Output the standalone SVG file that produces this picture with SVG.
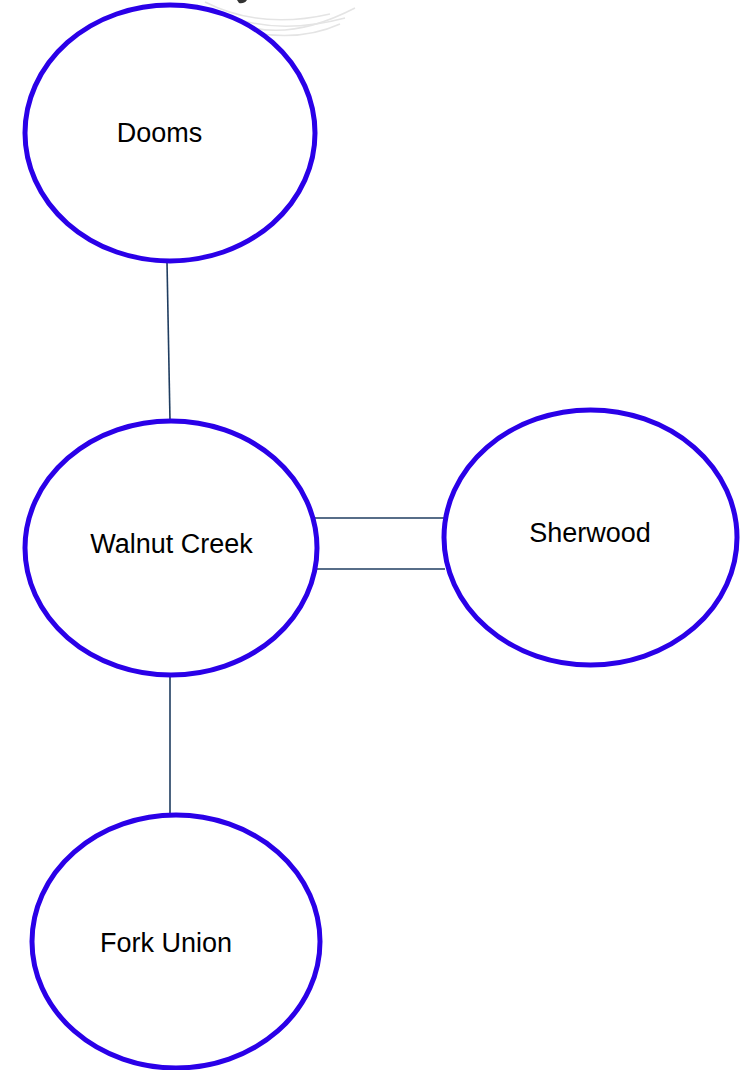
<svg xmlns="http://www.w3.org/2000/svg" width="745" height="1070" viewBox="0 0 745 1070">
<style>
.node ellipse{fill:#ffffff;stroke:#2a00e8;stroke-width:5}
.node text{font-family:"Liberation Sans",Arial,sans-serif;font-size:27px;fill:#000000}
.edge{stroke:#1f3d60;stroke-width:1.6;fill:none}
.wm{stroke:#e4e4e4;stroke-width:1.5;fill:none}
</style>
<rect width="745" height="1070" fill="#ffffff"/>
<g id="watermark">
<path class="wm" d="M205 2 Q260 30 330 14"/>
<path class="wm" d="M215 10 Q270 38 345 18"/>
<path class="wm" d="M235 22 Q285 44 355 8"/>
<path class="wm" d="M250 32 Q300 42 340 24"/>
<path d="M237 0 L247 0 Q244 4 239 3 Z" fill="#333333"/>
</g>
<g id="connectors">
<line class="edge" x1="167" y1="262" x2="170" y2="421"/>
<line class="edge" x1="170" y1="675" x2="170" y2="815"/>
<line class="edge" x1="315" y1="518" x2="444" y2="518"/>
<line class="edge" x1="316" y1="569" x2="445" y2="569"/>
</g>
<g id="node-dooms" class="node">
<ellipse cx="170" cy="133" rx="145" ry="128"/>
<text x="159.5" y="142" text-anchor="middle">Dooms</text>
</g>
<g id="node-walnut-creek" class="node">
<ellipse cx="171" cy="548" rx="146" ry="127"/>
<text x="171.5" y="553" text-anchor="middle">Walnut Creek</text>
</g>
<g id="node-sherwood" class="node">
<ellipse cx="590.5" cy="537.5" rx="146.5" ry="127.5"/>
<text x="590" y="542" text-anchor="middle">Sherwood</text>
</g>
<g id="node-fork-union" class="node">
<ellipse cx="176" cy="941.5" rx="144" ry="126.5"/>
<text x="166" y="952" text-anchor="middle">Fork Union</text>
</g>
</svg>
